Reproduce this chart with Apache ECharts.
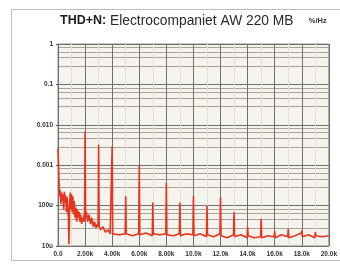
<!DOCTYPE html>
<html>
<head>
<meta charset="utf-8">
<script src="https://cdn.jsdelivr.net/npm/echarts@6/dist/echarts.min.js"></script>
<style>
  html, body { margin: 0; padding: 0; background: #fff; }
  #thd-chart { width: 340px; height: 264px; }
</style>
</head>
<body>
<div id="thd-chart"></div>
<script>
// THD+N spectrum, % vs Hz (log y)
const freqHz = [
  0, 40, 80, 120, 170, 220, 270, 320, 370, 420, 470, 520, 570, 620, 670, 720, 770, 810, 850, 900,
  950, 1000, 1050, 1100, 1150, 1200, 1260, 1320, 1380, 1440, 1500, 1560, 1620, 1680, 1740, 1800,
  1860, 1920, 1960, 2000, 2040, 2100, 2200, 2300, 2400, 2500, 2600, 2700, 2800, 2900, 2960, 3000,
  3040, 3150, 3300, 3500, 3700, 3850, 3960, 4000, 4040, 4500, 4960, 5000, 5040, 5500, 5960, 6000,
  6040, 6500, 6960, 7000, 7040, 7500, 7960, 8000, 8040, 8500, 8960, 9000, 9040, 9500, 9960, 10000,
  10040, 10500, 10960, 11000, 11040, 11500, 11960, 12000, 12040, 12500, 12960, 13000, 13040, 13500,
  13960, 14000, 14040, 14500, 14960, 15000, 15040, 15500, 15960, 16000, 16040, 16500, 16960, 17000,
  17040, 17500, 17960, 18000, 18040, 18500, 18960, 19000, 19040, 19500, 20000
];
const thdPct = [
  0.0026, 0.0011, 0.00035, 0.00017, 0.00024, 0.00011, 0.00021, 0.00013, 0.00019, 0.00008,
  0.00022, 0.00012, 0.00018, 0.00007, 0.00016, 0.00009, 0.00005, 0.000011, 0.00009, 0.00021,
  0.00008, 0.00019, 0.00007, 0.00017, 0.00006, 0.00013, 0.00005, 0.00009, 0.00004, 0.00008,
  0.00005, 0.00007, 0.00004, 0.00006, 0.000035, 0.00005, 0.00004, 0.00006, 0.00004, 0.0068,
  0.00005, 0.00007, 0.00004, 0.00006, 0.000035, 0.00005, 0.00003, 0.00004, 0.000028, 0.000035,
  0.00003, 0.0032, 0.00003, 0.000025, 0.00003, 0.000022, 0.000025, 0.00002, 0.000022, 0.0030,
  0.00002, 0.000019, 0.00002, 0.00017, 0.00002, 0.000018, 0.00002, 0.0010, 0.000019, 0.000021,
  0.000018, 0.00012, 0.00002, 0.000019, 0.00002, 0.00036, 0.000019, 0.000018, 0.00002, 0.00012,
  0.000018, 0.00002, 0.000019, 0.00017, 0.000018, 0.00002, 0.000017, 0.00010, 0.000019, 0.000017,
  0.00002, 0.00016, 0.000018, 0.000016, 0.000019, 0.00007, 0.000017, 0.000019, 0.000016, 0.00003,
  0.000018, 0.000016, 0.000017, 0.000047, 0.000016, 0.000018, 0.000017, 0.000023, 0.000016, 0.000019,
  0.000017, 0.000027, 0.000016, 0.000018, 0.000021, 0.000024, 0.000017, 0.000019, 0.000016, 0.000022,
  0.000018, 0.000017, 0.000018
];
const xTickLabels = ['0.0', '2.00k', '4.00k', '6.00k', '8.00k', '10.0k', '12.0k', '14.0k', '16.0k', '18.0k', '20.0k'];
const yTickLabels = {'1': '1', '0.1': '0.1', '0.01': '0.010', '0.001': '0.001', '0.0001': '100u', '0.00001': '10u'};

let thdChart = echarts.init(document.getElementById('thd-chart'));
thdChart.setOption({
  animation: false,
  backgroundColor: '#fff',
  title: {
    text: '{b|THD+N:} Electrocompaniet AW 220 MB    {s|%/Hz}',
    left: 55,
    top: 9,
    textStyle: {
      rich: {
        b: {fontFamily: 'Liberation Sans', fontWeight: 'bold', fontSize: 12.5, color: '#1c1c1c'},
        s: {fontFamily: 'Liberation Sans', fontWeight: 'bold', fontSize: 7.5, color: '#333'}
      },
      fontFamily: 'Liberation Sans',
      fontWeight: 'normal',
      fontSize: 13.8,
      color: '#2a2a2a'
    }
  },
  graphic: [{
    type: 'rect',
    shape: {x: 11.5, y: 9.5, width: 340, height: 251},
    style: {fill: 'none', stroke: '#bbb', lineWidth: 1},
    silent: true,
    z: -10
  }],
  grid: {
    left: 58, right: 9, top: 44, bottom: 18,
    show: true,
    backgroundColor: '#f5f3ee',
    borderColor: '#8a8a8a',
    borderWidth: 1
  },
  xAxis: {
    type: 'value',
    min: 0, max: 20000, interval: 2000,
    axisLine: {show: false},
    axisTick: {show: false},
    axisLabel: {
      fontSize: 6.5, fontWeight: 'bold', color: '#333', margin: 5,
      formatter: v => xTickLabels[Math.round(v / 2000)]
    },
    splitLine: {lineStyle: {color: '#6f6f6f', width: 1}},
    minorTick: {show: false, splitNumber: 2},
    minorSplitLine: {show: true, lineStyle: {color: '#e2ddd2', width: 1}}
  },
  yAxis: {
    type: 'log', logBase: 10,
    min: 0.00001, max: 1,
    axisLine: {show: false},
    axisTick: {show: true, length: 2, lineStyle: {color: '#555'}},
    axisLabel: {
      fontSize: 6.5, fontWeight: 'bold', color: '#333', margin: 5,
      formatter: v => {
        const key = String(Number(v.toPrecision(3)));
        return yTickLabels[key] !== undefined ? yTickLabels[key] : '';
      }
    },
    splitLine: {lineStyle: {color: '#707070', width: 1}},
    minorTick: {show: false, splitNumber: 5},
    minorSplitLine: {show: true, lineStyle: {color: '#a9a397', width: 1}}
  },
  series: [{
    type: 'line',
    data: freqHz.map((f, i) => [f, thdPct[i]]),
    showSymbol: false,
    lineStyle: {color: '#e8341c', width: 1.6},
    z: 5
  }]
});
</script>
</body>
</html>
